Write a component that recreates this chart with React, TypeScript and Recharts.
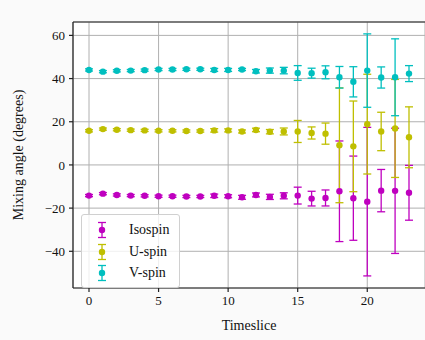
import {
  CartesianGrid,
  ErrorBar,
  Legend,
  ReferenceLine,
  Scatter,
  ScatterChart,
  XAxis,
  YAxis
} from "recharts";

const timeslices = [0, 1, 2, 3, 4, 5, 6, 7, 8, 9, 10, 11, 12, 13, 14, 15, 16, 17, 18, 19, 20, 21, 22, 23];

const isospin = [-14.2, -13.3, -13.9, -14.2, -14.3, -14.5, -14.5, -14.6, -14.6, -14.3, -14.5, -15.0, -13.9, -14.8, -14.3, -14.2, -15.6, -15.3, -12.2, -15.4, -17.0, -11.9, -12.0, -12.9];
const isospinErr = [0.5, 0.5, 0.5, 0.5, 0.5, 0.5, 0.5, 0.5, 0.5, 0.8, 0.7, 0.9, 0.9, 1.2, 1.4, 3.9, 3.4, 3.7, 23.3, 19.5, 34.4, 9.8, 29.0, 12.7];

const uspin = [15.8, 16.6, 16.3, 16.1, 16.0, 15.8, 15.8, 15.7, 15.7, 16.0, 16.0, 15.5, 16.2, 15.4, 15.5, 15.5, 14.8, 14.5, 9.1, 8.6, 18.9, 15.5, 16.9, 12.8];
const uspinErr = [0.5, 0.5, 0.5, 0.5, 0.5, 0.5, 0.5, 0.5, 0.5, 0.8, 0.7, 0.7, 0.8, 1.0, 1.6, 5.1, 2.8, 4.9, 26.6, 21.0, 23.1, 8.9, 22.7, 14.1];

const vspin = [44.0, 43.2, 43.6, 43.7, 43.9, 44.2, 44.2, 44.3, 44.3, 44.0, 44.0, 44.2, 43.4, 43.7, 43.7, 42.6, 42.5, 42.9, 40.6, 38.5, 43.7, 40.5, 40.6, 42.3];
const vspinErr = [0.5, 0.5, 0.5, 0.5, 0.5, 0.5, 0.5, 0.5, 0.5, 0.7, 0.7, 0.5, 0.8, 1.2, 1.5, 3.4, 2.3, 3.0, 5.0, 7.0, 17.0, 4.9, 17.8, 3.7];

const xTicks = [0, 5, 10, 15, 20];
const yTicks = [-40, -20, 0, 20, 40, 60];
const xDomain = [-1.15, 24.15];
const yDomain = [-57, 66.2];

const FONT = "'Liberation Serif', 'DejaVu Serif', serif";

const seriesList = [
  { name: "Isospin", color: "#bf00bf", values: isospin, errors: isospinErr },
  { name: "U-spin", color: "#bfbf00", values: uspin, errors: uspinErr },
  { name: "V-spin", color: "#00bfbf", values: vspin, errors: vspinErr }
];

function toPoints(values: number[], errors: number[]) {
  return timeslices.map((t, i) => ({ t, value: values[i], err: errors[i] }));
}

function LegendBox() {
  return (
    <div
      style={{
        background: "rgba(255,255,255,0.8)",
        border: "1px solid #d0d0d0",
        borderRadius: 3,
        padding: "4px 10px 3px 10px",
        fontFamily: FONT,
        fontSize: 14,
        color: "#111"
      }}
    >
      {seriesList.map((s) => (
        <div key={s.name} style={{ display: "flex", alignItems: "center", height: 21.7 }}>
          <svg width={20} height={20} style={{ marginRight: 17 }}>
            <line x1={10} y1={2.5} x2={10} y2={17.5} stroke={s.color} strokeWidth={1.3} />
            <line x1={6} y1={2.5} x2={14} y2={2.5} stroke={s.color} strokeWidth={1.3} />
            <line x1={6} y1={17.5} x2={14} y2={17.5} stroke={s.color} strokeWidth={1.3} />
            <circle cx={10} cy={10} r={3.2} fill={s.color} />
          </svg>
          <span>{s.name}</span>
        </div>
      ))}
    </div>
  );
}

export default function App() {
  return (
    <div style={{ position: "absolute", left: 0, top: 0, width: 425, height: 340, background: "#fafafa" }}>
      <ScatterChart width={425} height={340} margin={{ top: 22, right: 0, left: 0, bottom: 0 }}>
        <CartesianGrid stroke="#b0b0b0" strokeWidth={1} fill="#ffffff" verticalPoints={undefined} />
        <XAxis
          type="number"
          dataKey="t"
          domain={xDomain}
          ticks={xTicks}
          allowDataOverflow
          height={52}
          stroke="#222"
          strokeWidth={1.2}
          tickSize={4}
          tickMargin={4}
          tick={{ fill: "#111", fontFamily: FONT, fontSize: 13 }}
          label={{ value: "Timeslice", position: "insideBottom", offset: 10, fill: "#111", fontFamily: FONT, fontSize: 14 }}
        />
        <YAxis
          type="number"
          dataKey="value"
          domain={yDomain}
          ticks={yTicks}
          allowDataOverflow
          width={73}
          stroke="#222"
          strokeWidth={1.2}
          tickSize={4}
          tickMargin={4}
          tickFormatter={(v: number) => (v < 0 ? `\u2212${Math.abs(v)}` : `${v}`)}
          tick={{ fill: "#111", fontFamily: FONT, fontSize: 13 }}
          label={{
            value: "Mixing angle (degrees)",
            angle: -90,
            position: "insideLeft",
            offset: 18,
            fill: "#111",
            fontFamily: FONT,
            fontSize: 14,
            style: { textAnchor: "middle" }
          }}
        />
        <ReferenceLine y={yDomain[1]} stroke="#222" strokeWidth={1.2} ifOverflow="visible" />
        {seriesList.map((s) => (
          <Scatter
            key={s.name}
            name={s.name}
            data={toPoints(s.values, s.errors)}
            fill={s.color}
            isAnimationActive={false}
            shape={(p: any) => <circle cx={p.cx} cy={p.cy} r={3.2} fill={s.color} />}
          >
            <ErrorBar dataKey="err" direction="y" width={4} stroke={s.color} strokeWidth={1.3} isAnimationActive={false} />
          </Scatter>
        ))}
        <Legend
          layout="horizontal"
          verticalAlign="middle"
          align="center"
          content={() => <LegendBox />}
          wrapperStyle={{ left: 81, top: 214, width: "auto", height: "auto" }}
        />
      </ScatterChart>
    </div>
  );
}
